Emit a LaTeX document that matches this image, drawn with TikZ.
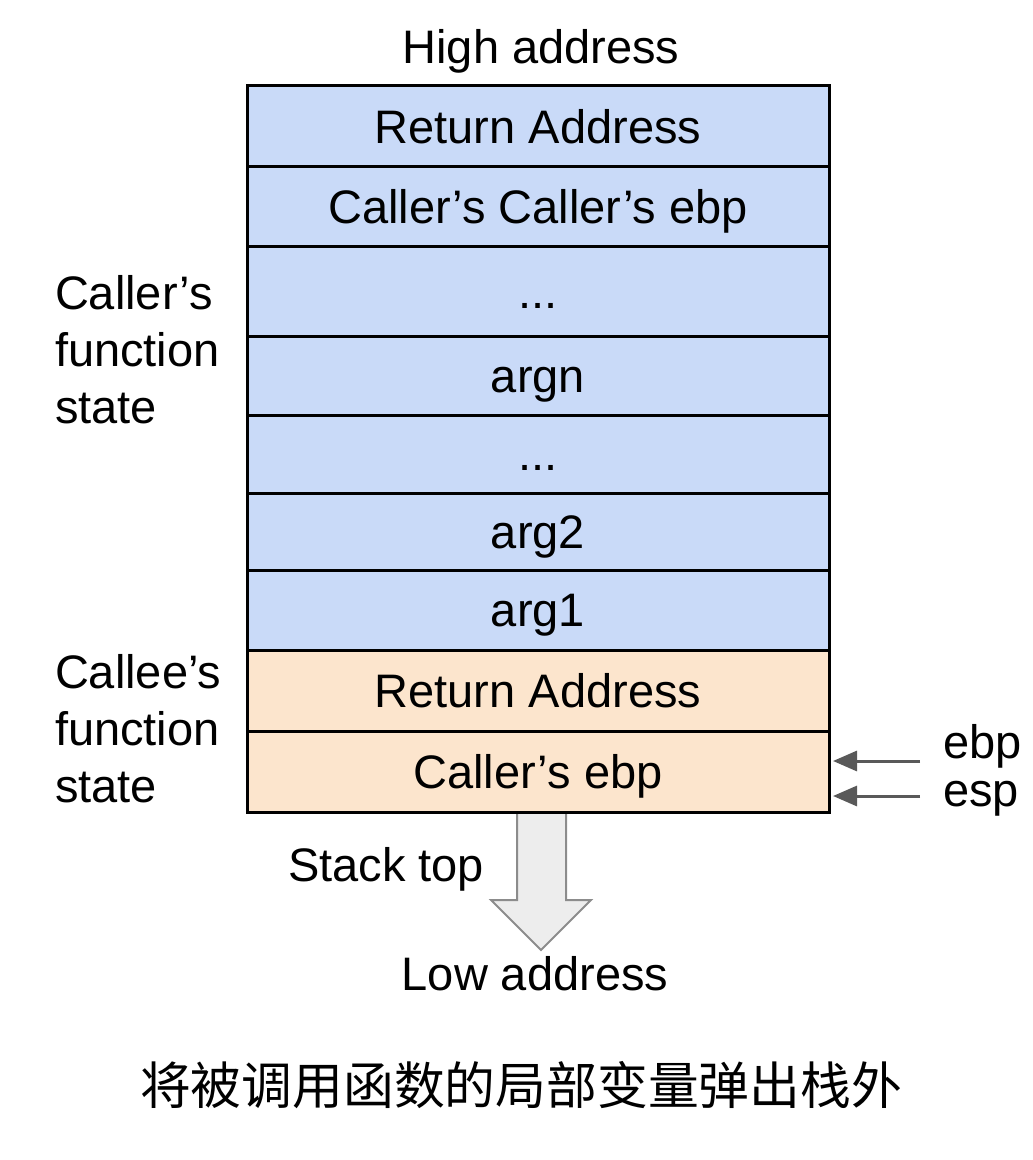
\documentclass[tikz,border=0pt]{standalone}
\usepackage{fontspec}
\setmainfont{Liberation Sans}
\newfontfamily\cjk{Noto Sans CJK SC}
\usetikzlibrary{arrows.meta}
\definecolor{callerblue}{HTML}{C9DAF8}
\definecolor{calleeorange}{HTML}{FCE5CD}
\tikzstyle{every node}=[inner sep=0pt,outer sep=0pt,font=\fontsize{23.5}{28.5}\selectfont]
\tikzstyle{cell}=[draw=black,line width=1.5pt,minimum width=291pt,text height=16.9pt,text depth=0pt]
\tikzstyle{caller}=[cell,fill=callerblue]
\tikzstyle{callee}=[cell,fill=calleeorange]
\tikzstyle{ptr}=[draw=black!65,line width=1.5pt,-{Triangle[length=12pt,width=10pt]},shorten >=2pt]

\begin{document}
\begin{tikzpicture}[x=0.5pt,y=-0.5pt]
	\useasboundingbox (0,0) rectangle (1032,1160);
	\draw[fill=black!7,draw=black!45,line width=1pt]
		(517,805) -- (517,900) -- (491,900) -- (541,950) -- (591,900) -- (566,900) -- (566,805);
	\node (r1) [caller,minimum height=40.5pt] at (538,126.5) {Return Address};
	\node (r2) [caller,minimum height=40pt] at (538,207) {Caller’s Caller’s ebp};
	\node (r3) [caller,minimum height=44.5pt] at (538,291.5) {...};
	\node (r4) [caller,minimum height=39.5pt] at (538,375.5) {argn};
	\node (r5) [caller,minimum height=39pt] at (538,454) {...};
	\node (r6) [caller,minimum height=38.5pt] at (538,531.5) {arg2};
	\node (r7) [caller,minimum height=40pt] at (538,610) {arg1};
	\node (r8) [callee,minimum height=40.5pt] at (538,690.5) {Return Address};
	\node (r9) [callee,minimum height=40.5pt] at (538,771.5) {Caller’s ebp};
	\node (high) [anchor=base] at (541,64) {High address};
	\node (callerstate) [anchor=west,align=left] at (55,350) {Caller’s\\function\\state};
	\node (calleestate) [anchor=west,align=left] at (55,729) {Callee’s\\function\\state};
	\node (ebp) [anchor=base west] at (943,758) {ebp};
	\node (esp) [anchor=base west] at (943,806) {esp};
	\coordinate (ebptail) at (920,761);
	\coordinate (esptail) at (920,796);
	\draw[ptr] (ebptail) -- (ebptail -| r9.east);
	\draw[ptr] (esptail) -- (esptail -| r9.east);
	\node (stacktop) [anchor=base west] at (288,881) {Stack top};
	\node (low) [anchor=base] at (535,990) {Low address};
	\node (caption) [font=\cjk\fontsize{25.4}{30}\selectfont] at (521,1085) {将被调用函数的局部变量弹出栈外};
\end{tikzpicture}
\end{document}
